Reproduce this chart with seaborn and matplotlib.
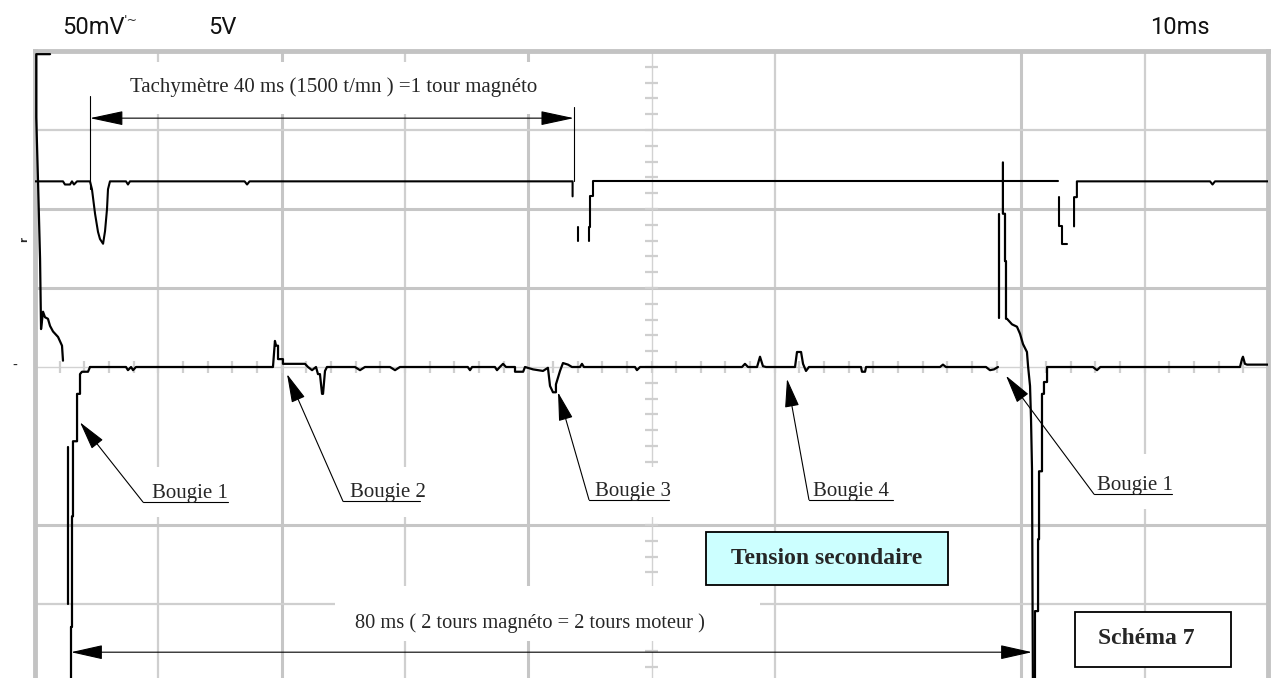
import numpy as np
import pandas as pd
import matplotlib
matplotlib.use("Agg")
import matplotlib.pyplot as plt
import seaborn as sns
from matplotlib.patches import Rectangle

# ---------------- data (time in ms, amplitude in screen divisions) ----------------
# Upper trace : tachymetre signal (5 V/div)
tach_segments = [
    [(0.0, 2.35), (2.27, 2.35), (2.43, 2.31), (2.84, 2.31), (3.0, 2.35), (3.16, 2.31), (3.41, 2.35),
     (4.46, 2.35), (4.62, 2.25), (4.87, 1.94), (5.11, 1.71), (5.27, 1.62), (5.52, 1.56), (5.68, 1.72),
     (5.84, 2.0), (5.92, 2.25), (6.08, 2.35), (7.38, 2.35), (7.54, 2.31), (7.7, 2.35), (17.0, 2.35),
     (17.2, 2.31), (17.4, 2.35), (43.6, 2.35), (43.6, 2.16)],
    [(44.0, 1.77), (44.0, 1.59)],
    [(44.9, 1.59), (44.9, 1.77), (45.0, 1.77), (45.0, 2.16), (45.25, 2.16), (45.25, 2.35), (82.97, 2.35)],
    [(83.05, 2.15), (83.05, 1.78), (83.3, 1.78), (83.3, 1.56), (83.7, 1.56)],
    [(84.27, 1.78), (84.27, 2.15), (84.5, 2.15), (84.5, 2.35), (95.3, 2.35), (95.5, 2.31), (95.7, 2.35),
     (100.0, 2.35)],
]

# Lower trace : secondary voltage (50 mV/div)
sec_segments = [
    [(1.22, 3.96), (0.1, 3.96), (0.1, 3.16), (0.24, 2.38), (0.41, 1.37), (0.49, 0.48), (0.65, 0.70),
     (0.81, 0.63), (1.05, 0.61), (1.22, 0.52), (1.46, 0.45), (1.87, 0.38), (2.19, 0.27), (2.27, 0.08)],
    [(2.68, -1.01), (2.68, -3.0)],
    [(2.92, -4.3), (2.92, -3.29), (3.0, -3.29), (3.0, -1.89), (3.08, -1.89), (3.08, -0.94), (3.41, -0.94),
     (3.41, -0.34), (3.65, -0.34), (3.65, -0.09), (3.81, -0.06), (4.3, -0.06), (4.46, 0.0)],
    [(4.46, 0.0), (7.38, 0.0), (7.54, -0.04), (7.79, 0.0), (7.95, -0.04), (8.19, 0.0),
     (19.3, 0.0), (19.46, 0.33), (19.55, 0.27), (19.71, 0.27), (19.71, 0.10), (20.11, 0.10),
     (20.11, 0.04), (21.9, 0.04), (22.14, 0.0), (22.47, -0.04), (22.79, 0.0), (22.95, -0.09),
     (23.11, -0.09), (23.28, -0.34), (23.36, -0.34), (23.52, -0.05), (23.68, 0.0),
     (25.95, 0.0), (26.36, -0.04), (26.76, 0.0), (28.79, 0.0), (29.2, -0.04), (29.6, 0.0),
     (35.1, 0.0), (35.28, -0.04), (35.45, 0.0),
     (37.3, 0.0), (37.47, -0.04), (37.7, 0.0), (37.96, 0.04), (38.2, 0.0),
     (38.93, 0.0), (38.93, -0.06), (39.59, -0.06), (39.74, 0.0),
     (40.39, -0.03), (41.2, -0.05), (41.6, -0.01), (41.77, -0.24), (42.01, -0.32), (42.25, -0.32),
     (42.25, -0.22), (42.58, -0.05), (42.82, 0.05), (43.23, 0.03), (43.55, 0.0),
     (44.2, 0.0), (44.36, 0.04), (44.52, 0.0),
     (48.66, 0.0), (48.82, -0.04), (49.07, 0.0),
     (57.34, 0.0), (57.58, 0.04), (57.83, 0.0),
     (58.56, 0.0), (58.8, 0.13), (59.04, 0.01), (59.29, 0.0),
     (61.64, 0.0), (61.8, 0.19), (62.13, 0.19), (62.29, 0.04), (62.53, -0.05), (62.77, 0.0),
     (66.99, 0.0), (67.07, -0.06), (67.32, -0.06), (67.4, 0.0),
     (73.4, 0.0), (73.64, 0.03), (73.88, 0.0),
     (77.13, 0.0), (77.45, -0.04), (77.78, -0.03), (78.1, 0.0)],
    [(78.18, 0.62), (78.18, 1.94)],
    [(78.5, 2.59), (78.5, 1.94), (78.67, 1.94), (78.67, 1.34), (78.75, 1.34), (78.75, 0.61),
     (78.83, 0.61), (79.24, 0.54), (79.64, 0.51), (79.89, 0.42), (80.13, 0.29), (80.45, 0.19),
     (80.54, 0.01), (80.7, -0.24), (80.78, -0.66), (80.86, -1.29), (80.94, -4.3)],
    [(81.1, -4.3), (81.1, -3.09), (81.35, -3.09), (81.35, -2.18), (81.43, -2.18), (81.43, -1.32),
     (81.67, -1.32), (81.67, -0.34), (81.83, -0.34), (81.83, -0.19), (82.08, -0.19), (82.08, 0.0),
     (82.48, 0.0), (85.8, 0.0), (86.13, -0.04), (86.4, 0.0), (97.73, 0.0), (97.89, 0.1),
     (97.97, 0.13), (98.13, 0.04), (98.3, 0.03), (100.0, 0.03)],
]

# Grid (10 ms/div horizontally, 8 divisions vertically)
grid_t_thick = [20, 40, 80]
grid_t_thin = [10, 30, 60, 90]
grid_v_thick = [2, 1, -2]
grid_v_thin = [3, -3]
center_t, center_v = 50, 0

# Annotations
bougie_labels = ["Bougie 1", "Bougie 2", "Bougie 3", "Bougie 4", "Bougie 1"]
bougie_tip = [(3.65, -0.70), (20.44, -0.09), (42.42, -0.32), (60.99, -0.15), (78.75, -0.11)]
bougie_start = [(8.76, -1.71), (24.98, -1.70), (44.93, -1.68), (62.77, -1.68), (85.89, -1.61)]
bougie_uline_end = [15.65, 31.22, 51.42, 69.59, 92.21]
bougie_text_x = [9.49, 25.55, 45.42, 63.10, 86.13]

tach_text = "Tachymètre 40 ms (1500 t/mn ) =1 tour magnéto"
tach_span = (4.46, 43.7)
tach_arrow_v = 3.15
span_text = "80 ms ( 2 tours magnéto = 2 tours moteur )"
span_range = (2.92, 80.86)
span_arrow_v = -3.61

# ---------------- figure ----------------
sns.set_theme(style="white")
plt.rcParams["font.family"] = ["Liberation Serif", "DejaVu Sans"]

W, H = 1271, 678
fig = plt.figure(figsize=(W / 100, H / 100), dpi=100)
fig.patch.set_facecolor("white")
ax = fig.add_axes([35 / W, (678 - 683) / H, 1233 / W, 632 / H])
ax.set_xlim(0, 100)
ax.set_ylim(-4, 4)
ax.set_facecolor("white")

# grid
for t in grid_t_thick:
    ax.axvline(t, color="#c6c6c6", lw=2.2, zorder=1)
for t in grid_t_thin:
    ax.axvline(t, color="#cfcfcf", lw=1.6, zorder=1)
for v in grid_v_thick:
    ax.axhline(v, color="#c6c6c6", lw=2.2, zorder=1)
for v in grid_v_thin:
    ax.axhline(v, color="#cfcfcf", lw=1.6, zorder=1)
ax.axvline(center_t, color="#d2d2d2", lw=1.0, zorder=1)
ax.axhline(center_v, color="#d2d2d2", lw=1.0, zorder=1)
ax.vlines(np.arange(2, 100, 2), -0.08, 0.08, color="#cfcfcf", lw=1.6, zorder=1)
ax.hlines(np.arange(-3.8, 4.0, 0.2), 50 - 0.5, 50 + 0.5, color="#cfcfcf", lw=1.6, zorder=1)

# white masks under the text blocks (as in the original document)
masks = [(5.7, 3.20, 36.9, 0.66), (8.5, -1.90, 8.1, 0.63), (24.3, -1.90, 7.7, 0.63),
         (44.6, -1.90, 7.7, 0.63), (62.4, -1.90, 8.2, 0.63), (85.6, -1.80, 7.3, 0.70),
         (24.3, -3.47, 34.5, 0.70)]
for (x0, y0, w, h) in masks:
    ax.add_patch(Rectangle((x0, y0), w, h, facecolor="white", edgecolor="none", zorder=1.5))

# traces
def seg_frame(segs):
    rows = []
    for i, seg in enumerate(segs):
        for (t, v) in seg:
            rows.append({"t": t, "v": v, "seg": i})
    return pd.DataFrame(rows)

df_tach = seg_frame(tach_segments)
df_sec = seg_frame(sec_segments)
sns.lineplot(data=df_tach, x="t", y="v", units="seg", estimator=None, sort=False,
             color="black", linewidth=1.5, ax=ax, legend=False, zorder=3)
sns.lineplot(data=df_sec, x="t", y="v", units="seg", estimator=None, sort=False,
             color="black", linewidth=1.6, ax=ax, legend=False, zorder=3)

ax.set_xlabel("")
ax.set_ylabel("")
ax.set_xticks([])
ax.set_yticks([])
for s in ["top", "left", "right"]:
    ax.spines[s].set_color("#c3c3c3")
    ax.spines[s].set_linewidth(3.5)
    ax.spines[s].set_visible(True)
ax.spines["bottom"].set_visible(False)

# tachymetre annotation
ax.annotate("", xy=(tach_span[0], tach_arrow_v), xytext=(tach_span[1], tach_arrow_v),
            arrowprops=dict(arrowstyle="<|-|>,head_length=2.1,head_width=0.45", mutation_scale=10,
                            lw=0.8, color="black", shrinkA=0, shrinkB=0), zorder=4)
ax.plot([tach_span[0], tach_span[0]], [3.43, 2.25], color="black", lw=0.8, zorder=4)
ax.plot([tach_span[1], tach_span[1]], [3.29, 2.35], color="black", lw=0.8, zorder=4)
ax.text(24.2, 3.54, tach_text, ha="center", va="center", fontsize=15, zorder=4)

# 80 ms annotation
ax.annotate("", xy=(span_range[0], span_arrow_v), xytext=(span_range[1], span_arrow_v),
            arrowprops=dict(arrowstyle="<|-|>,head_length=2.0,head_width=0.45", mutation_scale=10,
                            lw=0.8, color="black", shrinkA=0, shrinkB=0), zorder=4)
ax.text(40.15, -3.24, span_text, ha="center", va="center", fontsize=14.7, zorder=4)

# Bougie labels
for lab, tip, st, ue, tx in zip(bougie_labels, bougie_tip, bougie_start, bougie_uline_end, bougie_text_x):
    ax.annotate("", xy=tip, xytext=st,
                arrowprops=dict(arrowstyle="-|>,head_length=1.8,head_width=0.45", mutation_scale=10,
                                lw=0.8, color="black", shrinkA=0, shrinkB=0), zorder=4)
    ax.plot([st[0], ue], [st[1], st[1]], color="black", lw=0.8, zorder=4)
    ax.text(tx, st[1] + 0.05, lab, ha="left", va="baseline", fontsize=15, zorder=4)

# boxes
ax.add_patch(Rectangle((54.42, -2.76), 19.62, 0.67, facecolor="#ccffff", edgecolor="black",
                       lw=1.3, zorder=4))
ax.text(64.23, -2.42, "Tension secondaire", ha="center", va="center", fontsize=17,
        fontweight="bold", zorder=5)
ax.add_patch(Rectangle((84.35, -3.80), 12.65, 0.70, facecolor="white", edgecolor="black",
                       lw=1.3, zorder=4))
ax.text(90.1, -3.44, "Schéma 7", ha="center", va="center", fontsize=17,
        fontweight="bold", zorder=5)

# oscilloscope header
hdr = dict(fontsize=17, family=["Roboto", "DejaVu Sans"], fontweight="normal", color="#111111",
           va="center", ha="left")
fig.text(62 / W, 1 - 27 / H, "50mV", **hdr)
fig.text(124 / W, 1 - 20 / H, "'~", fontsize=9, family=["DejaVu Sans"], va="center", ha="left")
fig.text(208 / W, 1 - 27 / H, "5V", **hdr)
fig.text(1150 / W, 1 - 27 / H, "10ms", **hdr)
fig.text(12 / W, 1 - 366 / H, "-", fontsize=10, family=["DejaVu Sans"], va="center", ha="left")
fig.text(19 / W, 1 - 240 / H, "r", fontsize=7, family=["DejaVu Sans"], va="center", ha="left",
         rotation=90, fontweight="bold")

fig.savefig("out.png", dpi=100, facecolor="white")
